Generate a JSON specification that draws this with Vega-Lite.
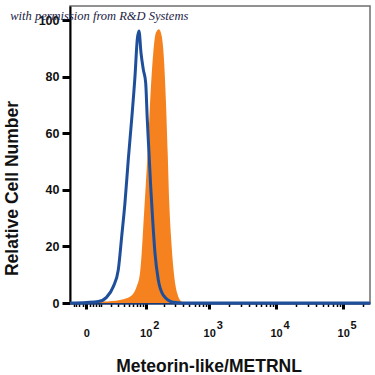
{
  "$schema": "https://vega.github.io/schema/vega-lite/v6.json",
  "width": 300,
  "height": 297,
  "autosize": {"type": "none"},
  "padding": {"left": 70, "top": 6, "right": 5, "bottom": 72},
  "background": "white",
  "config": {
    "view": {"stroke": "#6e6e6e", "strokeWidth": 1.5},
    "axis": {"labelFont": "Liberation Sans", "labelFontWeight": "bold", "titleFont": "Liberation Sans", "titleFontWeight": "bold", "labelColor": "#111111", "titleColor": "#111111", "grid": false}
  },
  "datasets": {
    "metrnl": [
      {"fluor": 0, "count": 0}, {"fluor": 11.9, "count": 0.5}, {"fluor": 32.6, "count": 1.1}, {"fluor": 52.1, "count": 2.2},
      {"fluor": 69.4, "count": 5.8}, {"fluor": 79.5, "count": 10.5}, {"fluor": 85.2, "count": 17.6}, {"fluor": 90.9, "count": 27.1},
      {"fluor": 99.9, "count": 41.2}, {"fluor": 108.1, "count": 53.1}, {"fluor": 115, "count": 64.9}, {"fluor": 122.8, "count": 76.7},
      {"fluor": 134.1, "count": 88.5}, {"fluor": 148.5, "count": 95.6}, {"fluor": 166.3, "count": 96.8}, {"fluor": 184, "count": 94.4},
      {"fluor": 200, "count": 86.2}, {"fluor": 215.5, "count": 70.8}, {"fluor": 229.4, "count": 53.1}, {"fluor": 243, "count": 35.4},
      {"fluor": 265, "count": 20}, {"fluor": 291.5, "count": 9.3}, {"fluor": 324.6, "count": 3.4}, {"fluor": 380, "count": 0.5},
      {"fluor": 427, "count": 0}
    ],
    "isotype": [
      {"fluor": -11.2, "count": 0}, {"fluor": 0, "count": 0.2}, {"fluor": 7.6, "count": 0.5}, {"fluor": 15, "count": 2},
      {"fluor": 22.9, "count": 5.8}, {"fluor": 29.9, "count": 11.7}, {"fluor": 35.5, "count": 23.5}, {"fluor": 41.5, "count": 35.4},
      {"fluor": 48.3, "count": 50.7}, {"fluor": 56.1, "count": 64.9}, {"fluor": 64.7, "count": 80.2}, {"fluor": 71.2, "count": 93.3},
      {"fluor": 76.4, "count": 96.2}, {"fluor": 82.8, "count": 88.5}, {"fluor": 90.9, "count": 82.6}, {"fluor": 99.9, "count": 77.9},
      {"fluor": 106.4, "count": 64.9}, {"fluor": 113.7, "count": 53.1}, {"fluor": 121.5, "count": 41.2}, {"fluor": 131.1, "count": 29.4},
      {"fluor": 143.1, "count": 17.6}, {"fluor": 162, "count": 8.2}, {"fluor": 195, "count": 2.8}, {"fluor": 280, "count": 0.3},
      {"fluor": 500, "count": 0}, {"fluor": 251000, "count": 0}
    ]
  },
  "layer": [
    {
      "data": {"name": "metrnl"},
      "mark": {"type": "area", "color": "#f5821f", "interpolate": "monotone"},
      "encoding": {
        "x": {
          "field": "fluor", "type": "quantitative",
          "scale": {"type": "symlog", "constant": 15, "domain": [-11.2, 251000], "nice": false, "zero": false},
          "axis": {
            "orient": "bottom", "values": [100, 1000, 10000, 100000],
            "labelExpr": "'' + (length(toString(datum.value)) - 1)",
            "ticks": false, "tickSize": 0, "domain": false, "labelPadding": 16, "labelOffset": 10,
            "labelFontSize": 11, "labelOverlap": false, "labelFlush": false, "title": null
          }
        },
        "y": {
          "field": "count", "type": "quantitative",
          "scale": {"domain": [0, 105], "nice": false},
          "axis": {
            "values": [0, 5, 10, 15, 20, 25, 30, 35, 40, 45, 50, 55, 60, 65, 70, 75, 80, 85, 90, 95, 100],
            "labelExpr": "datum.value % 20 === 0 ? datum.label : ''",
            "tickSize": {"condition": {"test": "datum.value % 20 === 0", "value": 8}, "value": 3},
            "tickWidth": {"condition": {"test": "datum.value % 20 === 0", "value": 3}, "value": 1.5},
            "tickColor": "#000000", "domainColor": "#000000", "domainWidth": 2,
            "labelPadding": 3, "labelFontSize": 12.5, "labelOverlap": false, "labelFlush": false,
            "title": "Relative Cell Number", "titleFontSize": 17.5,
            "titleX": -53, "titleY": 182, "titleAlign": "center", "titleBaseline": "alphabetic", "titleAngle": -90
          }
        }
      }
    },
    {
      "data": {"name": "isotype"},
      "mark": {"type": "line", "color": "#1f4f9a", "strokeWidth": 3, "interpolate": "monotone"},
      "encoding": {
        "x": {
          "field": "fluor", "type": "quantitative",
          "scale": {"type": "symlog", "constant": 15, "domain": [-11.2, 251000], "nice": false, "zero": false},
          "axis": {
            "orient": "bottom",
            "values": [-8, -6, -4, -2, 0, 2, 4, 6, 8, 10, 20, 30, 40, 50, 60, 70, 80, 90, 100, 200, 300, 400, 500, 600, 700, 800, 900, 1000, 2000, 3000, 4000, 5000, 6000, 7000, 8000, 9000, 10000, 20000, 30000, 40000, 50000, 60000, 70000, 80000, 90000, 100000, 200000],
            "labelExpr": "datum.value === 0 ? '0' : (indexof([100, 1000, 10000, 100000], datum.value) >= 0 ? '10' : '')",
            "tickSize": {"condition": {"test": "indexof([0, 100, 1000, 10000, 100000], datum.value) >= 0", "value": 6}, "value": 3.5},
            "tickWidth": {"condition": {"test": "indexof([0, 100, 1000, 10000, 100000], datum.value) >= 0", "value": 3}, "value": 1.5},
            "tickColor": "#000000", "domainColor": "#1d3a70", "domainWidth": 2.5,
            "labelPadding": 18, "labelFontSize": 11, "labelOverlap": false, "labelFlush": false,
            "title": "Meteorin-like/METRNL", "titleFontSize": 17.5,
            "titleX": 138.5, "titleY": 68, "titleAlign": "center", "titleBaseline": "alphabetic"
          }
        },
        "y": {"field": "count", "type": "quantitative", "scale": {"domain": [0, 105], "nice": false}}
      }
    },
    {
      "data": {"values": [{"note": "with permission from R&D Systems"}]},
      "mark": {"type": "text", "font": "Liberation Serif", "fontStyle": "italic", "fontSize": 12.5, "align": "left", "baseline": "middle", "color": "#1c2245"},
      "encoding": {
        "x": {"datum": -188, "type": "quantitative", "scale": {"type": "symlog", "constant": 15, "domain": [-11.2, 251000], "nice": false, "zero": false}, "axis": null},
        "y": {"datum": 101.5, "type": "quantitative", "scale": {"domain": [0, 105], "nice": false}},
        "text": {"field": "note"}
      }
    }
  ],
  "resolve": {"axis": {"x": "independent"}}
}
